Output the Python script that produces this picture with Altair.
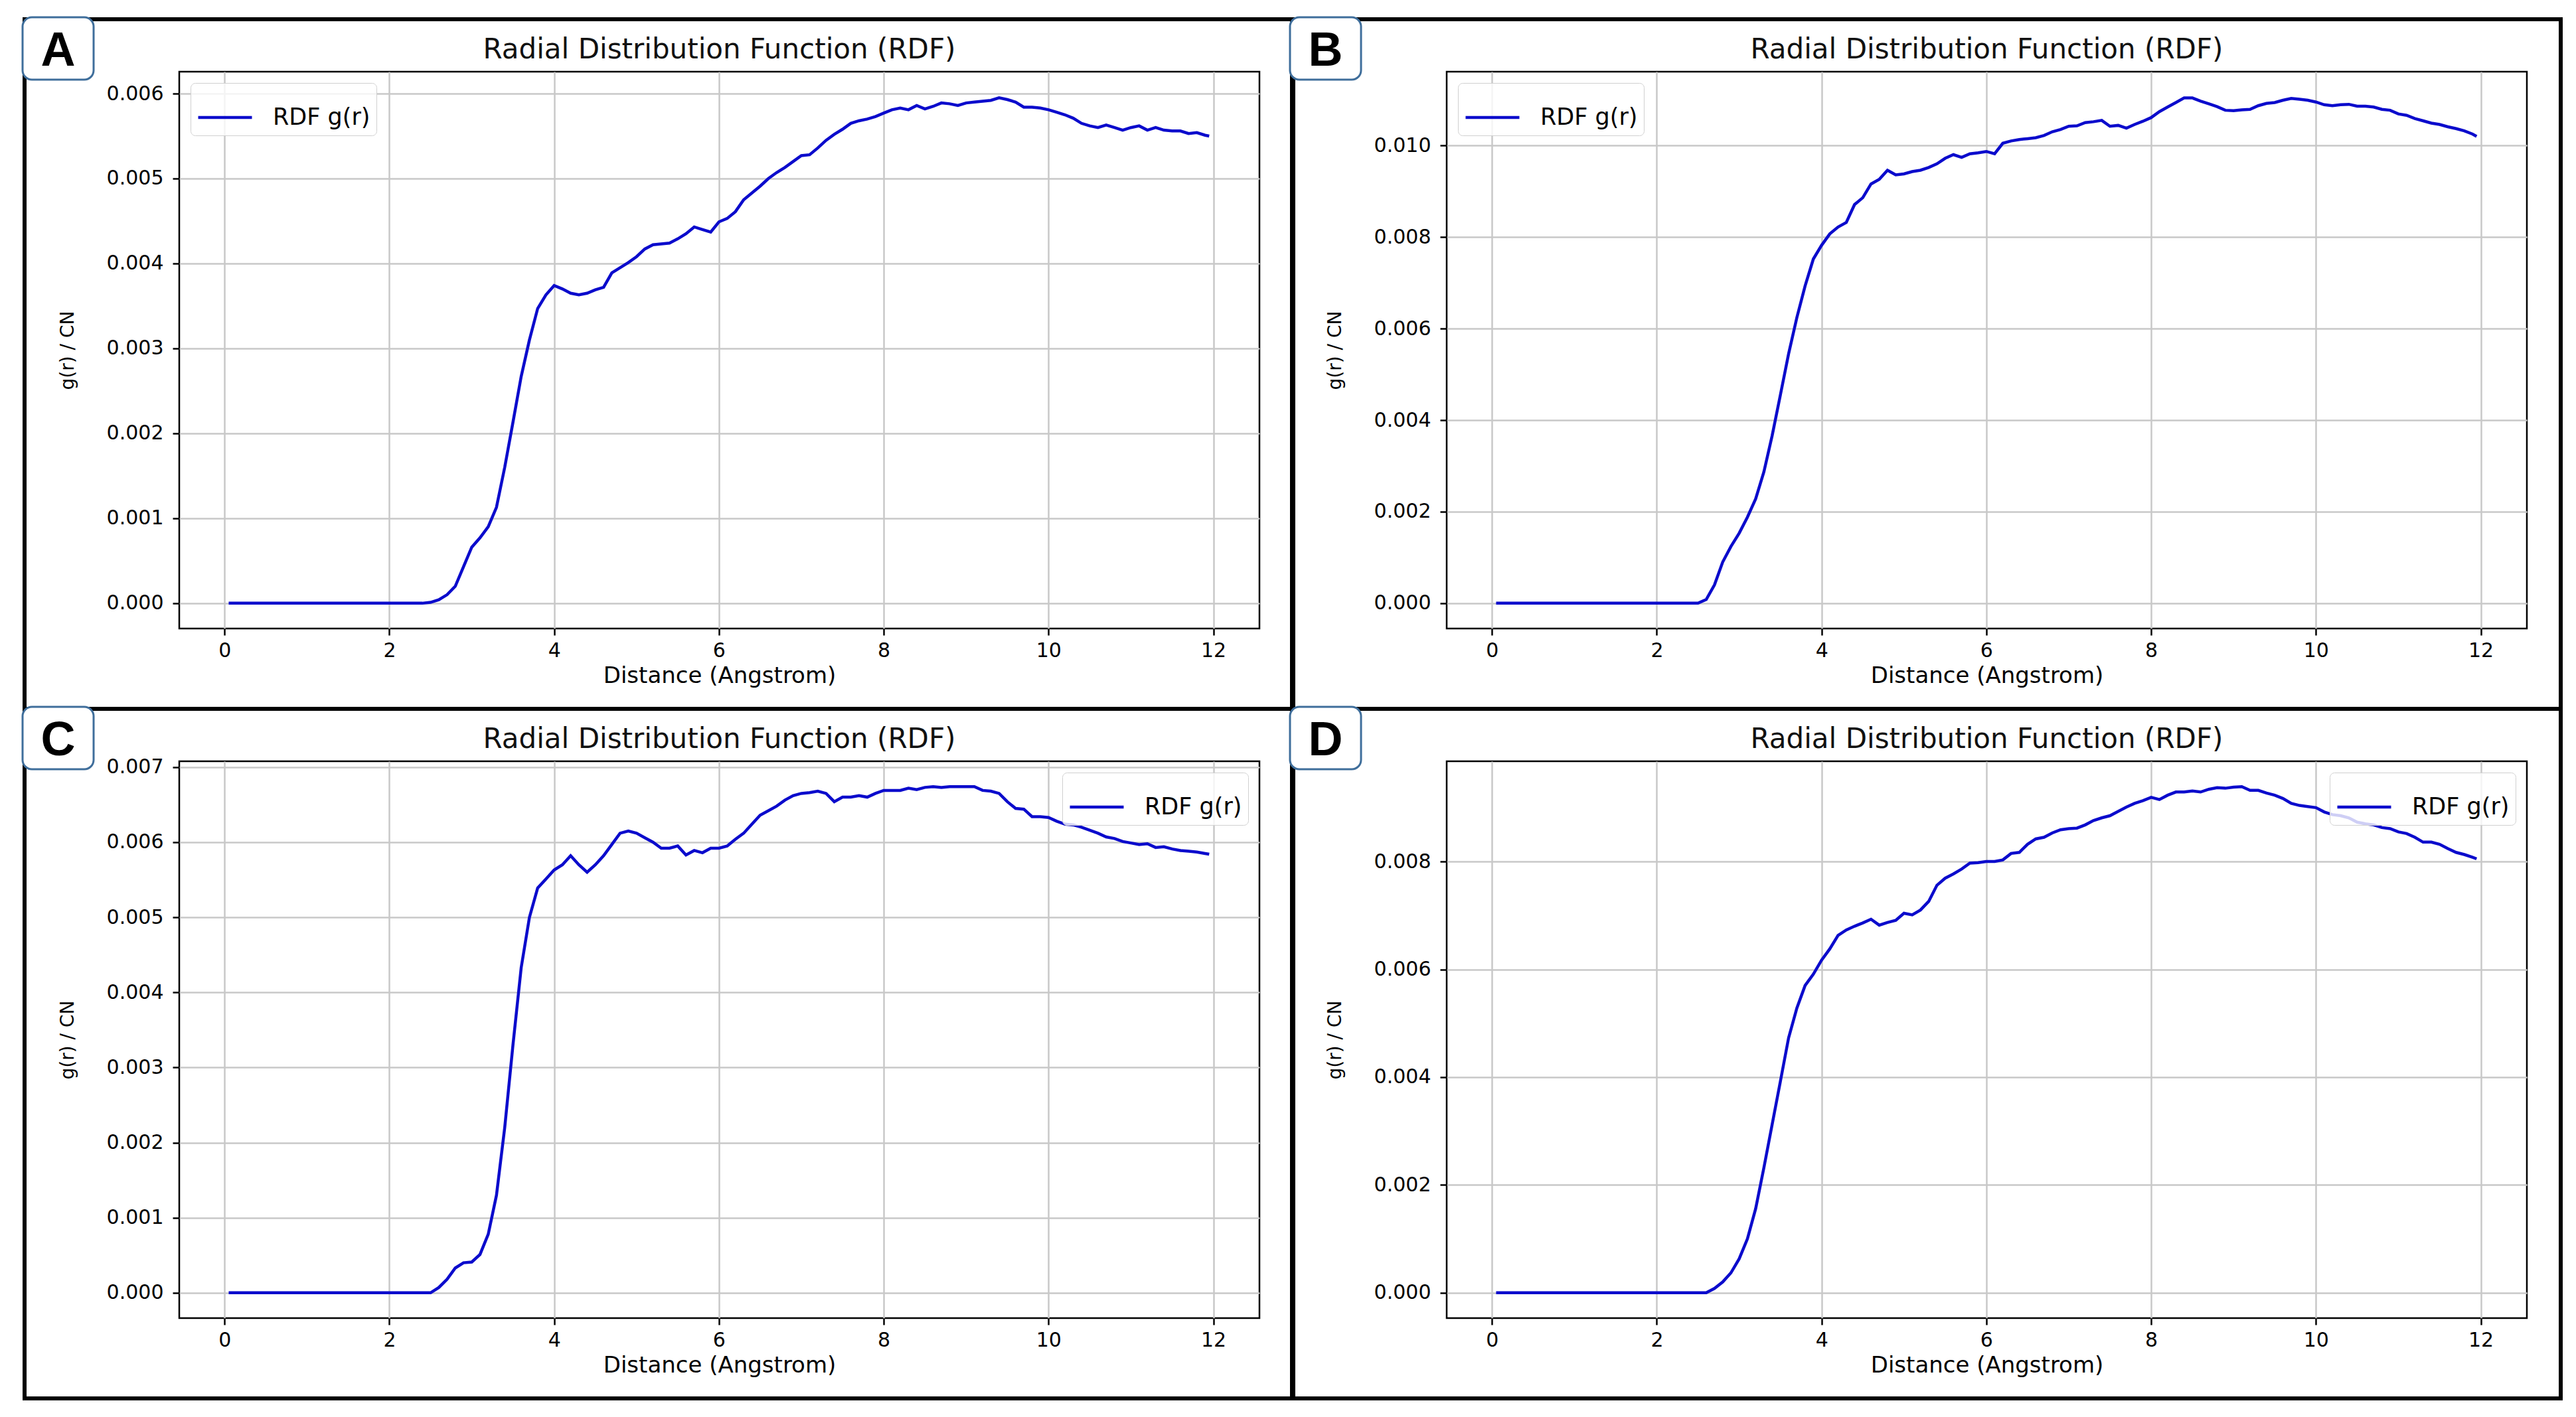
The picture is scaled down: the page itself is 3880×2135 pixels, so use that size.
import altair as alt
import pandas as pd

# ---------------- data ----------------
distance = [0.05, 1.0, 2.0, 2.4,
            2.5, 2.6, 2.7, 2.8, 2.9, 3.0, 3.1, 3.2, 3.3, 3.4,
            3.5, 3.6, 3.7, 3.8, 3.9, 4.0, 4.1, 4.2, 4.3, 4.4,
            4.5, 4.6, 4.7, 4.8, 4.9, 5.0, 5.1, 5.2, 5.3, 5.4,
            5.5, 5.6, 5.7, 5.8, 5.9, 6.0, 6.1, 6.2, 6.3, 6.4,
            6.5, 6.6, 6.7, 6.8, 6.9, 7.0, 7.1, 7.2, 7.3, 7.4,
            7.5, 7.6, 7.7, 7.8, 7.9, 8.0, 8.1, 8.2, 8.3, 8.4,
            8.5, 8.6, 8.7, 8.8, 8.9, 9.0, 9.1, 9.2, 9.3, 9.4,
            9.5, 9.6, 9.7, 9.8, 9.9, 10.0, 10.1, 10.2, 10.3, 10.4,
            10.5, 10.6, 10.7, 10.8, 10.9, 11.0, 11.1, 11.2, 11.3, 11.4,
            11.5, 11.6, 11.7, 11.8, 11.9, 11.95]

gr_A = [0.0, 0.0, 0.0, 0.0,
        0.00001, 0.00004, 0.0001, 0.0002, 0.00043, 0.00066, 0.00077, 0.0009, 0.00113, 0.0016,
        0.00213, 0.00267, 0.0031, 0.00347, 0.00363, 0.00374, 0.0037, 0.00365, 0.00363, 0.00365,
        0.00369, 0.00372, 0.00389, 0.00395, 0.00401, 0.00408, 0.00417, 0.00422, 0.00423, 0.00424,
        0.00429, 0.00435, 0.00443, 0.0044, 0.00437, 0.00449, 0.00453, 0.00461, 0.00475, 0.00483,
        0.00491, 0.005, 0.00507, 0.00513, 0.0052, 0.00527, 0.00528, 0.00536, 0.00545, 0.00552,
        0.00558, 0.00565, 0.00568, 0.0057, 0.00573, 0.00577, 0.00581, 0.00583, 0.00581, 0.00586,
        0.00582, 0.00585, 0.00589, 0.00588, 0.00586, 0.00589, 0.0059, 0.00591, 0.00592, 0.00595,
        0.00593, 0.0059, 0.00584, 0.00584, 0.00583, 0.00581, 0.00578, 0.00575, 0.00571, 0.00565,
        0.00562, 0.0056, 0.00563, 0.0056, 0.00557, 0.0056, 0.00562, 0.00557, 0.0056, 0.00557,
        0.00556, 0.00556, 0.00553, 0.00554, 0.00551, 0.0055]

gr_B = [0.0, 0.0, 0.0, 0.0,
        0.0, 0.00008, 0.0004, 0.0009, 0.00124, 0.00153, 0.00188, 0.00228, 0.00287, 0.00366,
        0.00455, 0.00545, 0.00624, 0.00693, 0.00752, 0.00782, 0.00807, 0.00822, 0.00832, 0.00871,
        0.00886, 0.00916, 0.00926, 0.00946, 0.00936, 0.00938, 0.00943, 0.00946, 0.00952, 0.0096,
        0.00972, 0.0098, 0.00974, 0.00982, 0.00984, 0.00987, 0.00982, 0.01005, 0.0101, 0.01013,
        0.01015, 0.01017, 0.01022, 0.0103, 0.01035, 0.01042, 0.01043, 0.0105, 0.01052, 0.01055,
        0.01042, 0.01044, 0.01038, 0.01046, 0.01053, 0.01061, 0.01074, 0.01084, 0.01094, 0.01104,
        0.01104, 0.01097, 0.01091, 0.01085, 0.01077, 0.01076, 0.01078, 0.01079, 0.01087, 0.01092,
        0.01094, 0.01099, 0.01103, 0.01101, 0.01099, 0.01095, 0.01089, 0.01087, 0.01089, 0.0109,
        0.01086, 0.01086, 0.01084, 0.01079, 0.01077, 0.01069, 0.01066, 0.01059, 0.01054, 0.01049,
        0.01046, 0.01041, 0.01037, 0.01032, 0.01025, 0.0102]

gr_C = [0.0, 0.0, 0.0, 0.0,
        0.0, 0.00007, 0.00018, 0.00033, 0.0004, 0.00041, 0.00051, 0.00078, 0.0013, 0.0022,
        0.0033, 0.00433, 0.005, 0.00539, 0.00551, 0.00563, 0.0057, 0.00582, 0.0057, 0.0056,
        0.0057, 0.00582, 0.00597, 0.00612, 0.00615, 0.00612, 0.00606, 0.006, 0.00592, 0.00592,
        0.00595, 0.00583, 0.00589, 0.00586, 0.00592, 0.00592, 0.00595, 0.00604, 0.00612, 0.00624,
        0.00636, 0.00642, 0.00648, 0.00656, 0.00662, 0.00665, 0.00666, 0.00668, 0.00665, 0.00654,
        0.0066, 0.0066, 0.00662, 0.0066, 0.00665, 0.00669, 0.00669, 0.00669, 0.00672, 0.0067,
        0.00673, 0.00674, 0.00673, 0.00674, 0.00674, 0.00674, 0.00674, 0.00669, 0.00668, 0.00665,
        0.00654, 0.00645, 0.00644, 0.00634, 0.00634, 0.00633, 0.00628, 0.00624, 0.00623, 0.0062,
        0.00616, 0.00612, 0.00607, 0.00605, 0.00601, 0.00599, 0.00597, 0.00598, 0.00593, 0.00594,
        0.00591, 0.00589, 0.00588, 0.00587, 0.00585, 0.00584]

gr_D = [0.0, 0.0, 0.0, 0.0,
        0.0, 0.0, 0.00008, 0.0002, 0.00037, 0.00063, 0.001, 0.00156, 0.00232, 0.00312,
        0.00392, 0.00473, 0.00528, 0.0057, 0.00591, 0.00617, 0.00638, 0.00663, 0.00673, 0.0068,
        0.00686, 0.00693, 0.00682, 0.00687, 0.00691, 0.00704, 0.00701, 0.0071, 0.00726, 0.00756,
        0.00769, 0.00777, 0.00786, 0.00797, 0.00798, 0.008, 0.008, 0.00803, 0.00815, 0.00817,
        0.00832, 0.00842, 0.00845, 0.00853, 0.00859, 0.00861, 0.00862, 0.00868, 0.00876, 0.00881,
        0.00885, 0.00893, 0.00901, 0.00908, 0.00913, 0.00919, 0.00915, 0.00923, 0.00929, 0.00929,
        0.00931, 0.00929, 0.00934, 0.00937, 0.00936, 0.00938, 0.00939, 0.00932, 0.00932, 0.00927,
        0.00923, 0.00917, 0.00908, 0.00904, 0.00902, 0.009, 0.00892, 0.00887, 0.00885, 0.00881,
        0.00873, 0.0087, 0.00868, 0.00863, 0.00861, 0.00855, 0.00852, 0.00845, 0.00836, 0.00836,
        0.00832, 0.00824, 0.00817, 0.00813, 0.00808, 0.00805]

x_ticks = [0, 2, 4, 6, 8, 10, 12]
y_ticks_A = [0.0, 0.001, 0.002, 0.003, 0.004, 0.005, 0.006]
y_ticks_B = [0.0, 0.002, 0.004, 0.006, 0.008, 0.010]
y_ticks_C = [0.0, 0.001, 0.002, 0.003, 0.004, 0.005, 0.006, 0.007]
y_ticks_D = [0.0, 0.002, 0.004, 0.006, 0.008]

series_name = "RDF g(r)"
title_text = "Radial Distribution Function (RDF)"

for arr in (gr_A, gr_B, gr_C, gr_D):
    assert len(arr) == len(distance)

# ---------------- styling ----------------
BLUE = "#0b0bcc"
FONT = "DejaVu Sans"
PW = 1627          # plot width
PH = 839           # plot height
GAP_X = 282
GAP_Y = 200


def panel(letter, gr, ydom, yticks, lorient):
    df = pd.DataFrame({"Distance": distance, "gr": gr, "series": series_name})
    deco = pd.DataFrame({"k": [0]})

    line = alt.Chart(df).mark_line(strokeWidth=4.5, clip=True).encode(
        x=alt.X("Distance:Q",
                scale=alt.Scale(domain=[-0.55, 12.56], nice=False, zero=False),
                axis=alt.Axis(values=x_ticks, format="d", title="Distance (Angstrom)",
                              titleX=PW / 2, titleY=81, titleBaseline="alphabetic",
                              titleFontSize=34, labelPadding=8)),
        y=alt.Y("gr:Q",
                scale=alt.Scale(domain=ydom, nice=False, zero=False),
                axis=alt.Axis(values=yticks, format=".3f", title="g(r) / CN",
                              titleX=-160, titleY=PH / 2, titleBaseline="alphabetic",
                              titleFontSize=28, labelPadding=14)),
        color=alt.Color("series:N",
                        scale=alt.Scale(domain=[series_name], range=[BLUE]),
                        legend=alt.Legend(title=None, orient=lorient, offset=17,
                                          symbolType="stroke", symbolSize=6561,
                                          symbolStrokeWidth=4.5, labelFontSize=35,
                                          labelFont=FONT, labelColor="black",
                                          labelOffset=29, padding=9, cornerRadius=7,
                                          strokeColor="#d0d0d0",
                                          fillColor="rgba(255,255,255,0.8)")),
    )

    border = alt.Chart(deco).mark_rect(fill="white", fillOpacity=0, stroke="black",
                                       strokeWidth=6).encode(
        x=alt.value(-233), x2=alt.value(1678), y=alt.value(-79), y2=alt.value(PH + 121))

    box = alt.Chart(deco).mark_rect(fill="white", stroke="#3f6e9b", strokeWidth=3,
                                    cornerRadius=14).encode(
        x=alt.value(-236), x2=alt.value(-129), y=alt.value(-82), y2=alt.value(12))

    label = alt.Chart(deco).mark_text(text=letter, font="Liberation Sans", fontWeight="bold",
                                      fontSize=72, align="center", baseline="alphabetic",
                                      color="black").encode(
        x=alt.value(-182.5), y=alt.value(-9))

    title = alt.Chart(deco).mark_text(text=title_text, font=FONT, fontSize=42,
                                      align="center", baseline="alphabetic",
                                      color="#111111").encode(
        x=alt.value(PW / 2), y=alt.value(-20))

    return alt.layer(border, box, label, title, line).properties(width=PW, height=PH)


A = panel("A", gr_A, [-0.000298, 0.006258], y_ticks_A, "top-left")
B = panel("B", gr_B, [-0.000553, 0.011613], y_ticks_B, "top-left")
C = panel("C", gr_C, [-0.000337, 0.007078], y_ticks_C, "top-right")
D = panel("D", gr_D, [-0.00047, 0.00986], y_ticks_D, "top-right")

chart = alt.concat(
    A, B, C, D, columns=2,
    spacing=alt.RowColnumber(row=GAP_Y, column=GAP_X),
    bounds="flush",
).resolve_scale(
    color="independent"
).properties(
    padding={"left": 23, "top": 15, "right": 5, "bottom": 5},
    background="white",
).configure_view(
    stroke="black", strokeWidth=2.5
).configure_axis(
    domain=False,
    tickColor="black", tickWidth=2.5, tickSize=10,
    labelFont=FONT, labelFontSize=30, labelColor="black", labelFlush=False,
    titleFont=FONT, titleFontSize=31, titleFontWeight="normal", titleColor="black",
    gridColor="#c8c8c8", gridWidth=2.5,
)

chart.save("out.html", embed_options={"renderer": "svg", "actions": False})
